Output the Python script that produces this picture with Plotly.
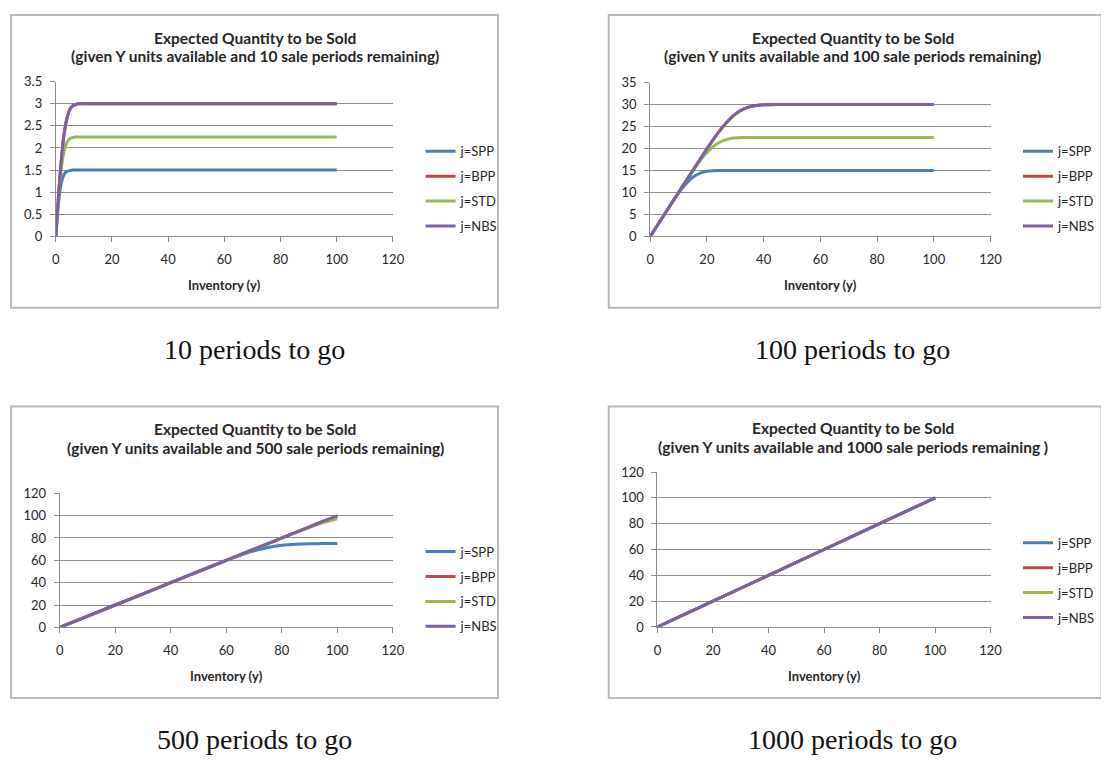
import plotly.graph_objects as go

# Page: 1109x765 window; the default 8px body margin is taken into account
PAGE_W, PAGE_H = 1109, 765
OFF = 8
W, H = PAGE_W - 2 * OFF, PAGE_H - 2 * OFF

# ---------------- data ----------------
series_names = ["j=SPP", "j=BPP", "j=STD", "j=NBS"]
series_colors = ["#4A7EBB", "#BE4B48", "#98B954", "#7D60A0"]

x_ticks = [0, 20, 40, 60, 80, 100, 120]

# Panel 1: 10 sale periods remaining
p1_x   = [0, 1, 2, 3, 4, 5, 6, 7, 8, 9, 10, 20, 30, 40, 50, 60, 70, 80, 90, 100]
p1_spp = [0, 0.78, 1.22, 1.41, 1.47, 1.49, 1.50, 1.50, 1.50, 1.50, 1.50, 1.50, 1.50, 1.50, 1.50, 1.50, 1.50, 1.50, 1.50, 1.50]
p1_bpp = [0, 0.95, 1.75, 2.33, 2.68, 2.87, 2.95, 2.98, 3.00, 3.00, 3.00, 3.00, 3.00, 3.00, 3.00, 3.00, 3.00, 3.00, 3.00, 3.00]
p1_std = [0, 0.89, 1.55, 1.94, 2.13, 2.21, 2.24, 2.25, 2.25, 2.25, 2.25, 2.25, 2.25, 2.25, 2.25, 2.25, 2.25, 2.25, 2.25, 2.25]
p1_nbs = [0, 0.95, 1.75, 2.33, 2.68, 2.87, 2.95, 2.98, 3.00, 3.00, 3.00, 3.00, 3.00, 3.00, 3.00, 3.00, 3.00, 3.00, 3.00, 3.00]
p1_yticks = [0, 0.5, 1, 1.5, 2, 2.5, 3, 3.5]
p1_yticktext = ["0", "0.5", "1", "1.5", "2", "2.5", "3", "3.5"]

# Panel 2: 100 sale periods remaining
p2_x   = [0, 5, 10, 12, 15, 18, 20, 22, 25, 28, 30, 33, 35, 38, 40, 45, 50, 60, 70, 80, 90, 100]
p2_spp = [0, 5.0, 9.83, 11.52, 13.46, 14.51, 14.82, 14.95, 14.99, 15.0, 15.0, 15.0, 15.0, 15.0, 15.0, 15.0, 15.0, 15.0, 15.0, 15.0, 15.0, 15.0]
p2_bpp = [0, 5.0, 10.0, 12.0, 14.98, 17.97, 19.92, 21.82, 24.46, 26.67, 27.81, 28.99, 29.46, 29.82, 29.93, 29.99, 30.0, 30.0, 30.0, 30.0, 30.0, 30.0]
p2_std = [0, 5.0, 10.0, 11.98, 14.9, 17.57, 19.1, 20.35, 21.6, 22.21, 22.38, 22.48, 22.5, 22.5, 22.5, 22.5, 22.5, 22.5, 22.5, 22.5, 22.5, 22.5]
p2_nbs = [0, 5.0, 10.0, 12.0, 14.98, 17.97, 19.92, 21.82, 24.46, 26.67, 27.81, 28.99, 29.46, 29.82, 29.93, 29.99, 30.0, 30.0, 30.0, 30.0, 30.0, 30.0]
p2_yticks = [0, 5, 10, 15, 20, 25, 30, 35]

# Panel 3: 500 sale periods remaining
p3_x   = [0, 20, 40, 50, 60, 65, 70, 75, 80, 85, 90, 95, 100]
p3_spp = [0, 20, 40, 50, 59.87, 64.46, 68.49, 71.55, 73.48, 74.47, 74.85, 74.97, 75.0]
p3_bpp = [0, 20, 40, 50, 60, 65, 70, 75, 80, 85, 90, 95, 99.6]
p3_std = [0, 20, 40, 50, 60, 65, 70, 75, 80, 84.9, 89.6, 93.8, 97.2]
p3_nbs = [0, 20, 40, 50, 60, 65, 70, 75, 80, 85, 90, 95, 99.8]
p3_yticks = [0, 20, 40, 60, 80, 100, 120]

# Panel 4: 1000 sale periods remaining
p4_x   = [0, 20, 40, 60, 80, 100]
p4_spp = [0, 20, 40, 60, 80, 100]
p4_bpp = [0, 20, 40, 60, 80, 100]
p4_std = [0, 20, 40, 60, 80, 100]
p4_nbs = [0, 20, 40, 60, 80, 100]
p4_yticks = [0, 20, 40, 60, 80, 100, 120]

titles = [
    ["Expected Quantity to be Sold", "(given Y units available and 10 sale periods remaining)"],
    ["Expected Quantity to be Sold", "(given Y units available and 100 sale periods remaining)"],
    ["Expected Quantity to be Sold", "(given Y units available and 500 sale periods remaining)"],
    ["Expected Quantity to be Sold", "(given Y units available and 1000 sale periods remaining )"],
]
captions = ["10 periods to go", "100 periods to go", "500 periods to go", "1000 periods to go"]
x_title = "Inventory (y)"

# ---------------- layout helpers (page pixel -> paper) ----------------
def px(x):
    return (x - OFF) / W

def py(y):
    return 1 - (y - OFF) / H

panels = [
    dict(x=p1_x, ys=[p1_spp, p1_bpp, p1_std, p1_nbs], yr=[0, 3.5], yt=p1_yticks, ytt=p1_yticktext,
         dom_x=(52.7, 396.7), dom_y=(233.3, 75), title_xy=(256, 30, 49), xt_y=283,
         legend_xy=(425, 131), box=(7, 7, 504, 306), cap_xy=(255.5, 349)),
    dict(x=p2_x, ys=[p2_spp, p2_bpp, p2_std, p2_nbs], yr=[0, 35], yt=p2_yticks, ytt=None,
         dom_x=(659.3, 1006.7), dom_y=(233.3, 76), title_xy=(866, 30, 49), xt_y=283,
         legend_xy=(1035, 131), box=(617, 7, 1120, 306), cap_xy=(866, 349)),
    dict(x=p3_x, ys=[p3_spp, p3_bpp, p3_std, p3_nbs], yr=[0, 120], yt=p3_yticks, ytt=None,
         dom_x=(56.7, 396.7), dom_y=(632.7, 495.7), title_xy=(256, 430, 449), xt_y=682,
         legend_xy=(425, 540), box=(7, 407, 504, 705), cap_xy=(255.5, 747)),
    dict(x=p4_x, ys=[p4_spp, p4_bpp, p4_std, p4_nbs], yr=[0, 120], yt=p4_yticks, ytt=None,
         dom_x=(666.7, 1006.7), dom_y=(632.3, 474), title_xy=(866, 429, 448), xt_y=682,
         legend_xy=(1035, 531), box=(617, 407, 1120, 705), cap_xy=(866, 747)),
]

FONT = "Lato"
AXIS_GREY = "#8c8c8c"
TEXT = "#262626"

fig = go.Figure()
layout = dict(
    width=W, height=H,
    margin=dict(l=0, r=0, t=0, b=0),
    paper_bgcolor="white", plot_bgcolor="white",
    showlegend=True,
    shapes=[], annotations=[],
)

for i, p in enumerate(panels):
    n = i + 1
    xa = "x" if n == 1 else f"x{n}"
    ya = "y" if n == 1 else f"y{n}"
    leg = "legend" if n == 1 else f"legend{n}"
    for name, color, ys in zip(series_names, series_colors, p["ys"]):
        fig.add_trace(go.Scatter(
            x=p["x"], y=ys, mode="lines", name=name,
            line=dict(color=color, width=3, shape="spline", smoothing=0.8),
            xaxis=xa, yaxis=ya, legend=leg, legendgroup=f"{n}{name}",
            hoverinfo="skip",
        ))
    xkey = "xaxis" if n == 1 else f"xaxis{n}"
    ykey = "yaxis" if n == 1 else f"yaxis{n}"
    layout[xkey] = dict(
        domain=[px(p["dom_x"][0]), px(p["dom_x"][1])],
        anchor=ya, range=[0, 120], tickvals=x_ticks,
        showline=True, linecolor=AXIS_GREY, linewidth=1,
        ticks="outside", ticklen=5, tickcolor=AXIS_GREY,
        ticklabelstandoff=6,
        tickfont=dict(family=FONT, size=13, color=TEXT),
        showgrid=False, zeroline=False, fixedrange=True,
    )
    ydict = dict(
        domain=[py(p["dom_y"][0]), py(p["dom_y"][1])],
        anchor=xa, range=p["yr"], tickvals=p["yt"],
        showline=True, linecolor=AXIS_GREY, linewidth=1,
        ticks="outside", ticklen=5, tickcolor=AXIS_GREY,
        ticklabelstandoff=5,
        tickfont=dict(family=FONT, size=13, color=TEXT),
        showgrid=True, gridcolor=AXIS_GREY, gridwidth=1,
        zeroline=False, fixedrange=True,
    )
    if p["ytt"] is not None:
        ydict["ticktext"] = p["ytt"]
    layout[ykey] = ydict

    layout[leg] = dict(
        x=px(p["legend_xy"][0]), y=py(p["legend_xy"][1]),
        xanchor="left", yanchor="top",
        bgcolor="rgba(0,0,0,0)", borderwidth=0,
        font=dict(family=FONT, size=13, color=TEXT),
        tracegroupgap=5, traceorder="grouped",
    )

    bx0, by0, bx1, by1 = p["box"]
    layout["shapes"].append(dict(
        type="rect", xref="paper", yref="paper",
        x0=px(bx0), x1=px(bx1), y0=py(by1), y1=py(by0),
        line=dict(color="#b9b9b9", width=2), fillcolor="rgba(0,0,0,0)", layer="below",
    ))
    tx, ty1, ty2 = p["title_xy"]
    for line_text, ty in zip(titles[i], (ty1, ty2)):
        layout["annotations"].append(dict(
            text=f"<b>{line_text}</b>",
            x=px(tx), y=py(ty),
            xref="paper", yref="paper", xanchor="center", yanchor="middle",
            showarrow=False, align="center",
            font=dict(family=FONT, size=15.5, color=TEXT),
        ))
    layout["annotations"].append(dict(
        text=f"<b>{x_title}</b>",
        x=(px(p["dom_x"][0]) + px(p["dom_x"][1])) / 2, y=py(p["xt_y"]),
        xref="paper", yref="paper", xanchor="center", yanchor="middle",
        showarrow=False, font=dict(family=FONT, size=13, color=TEXT),
    ))
    layout["annotations"].append(dict(
        text=captions[i],
        x=px(p["cap_xy"][0]), y=py(p["cap_xy"][1]),
        xref="paper", yref="paper", xanchor="center", yanchor="middle",
        showarrow=False, font=dict(family="Liberation Serif", size=28, color="#111111"),
    ))

fig.update_layout(**layout)
fig.write_html("out.html", config={"displayModeBar": False})
